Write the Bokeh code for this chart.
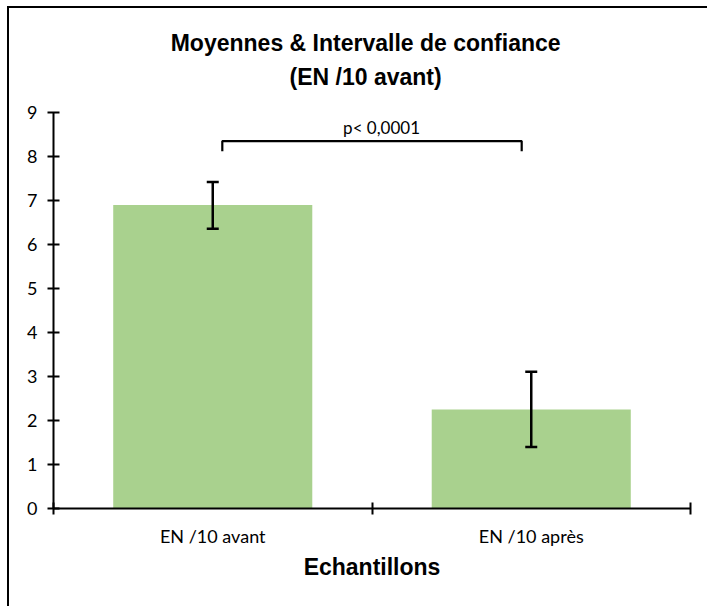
from bokeh.plotting import figure
from bokeh.models import ColumnDataSource, Whisker, TeeHead, FixedTicker, Range1d
from bokeh.core.properties import value
from bokeh.embed import file_html
from bokeh.resources import INLINE

# ---- data ----
categories = ["EN /10 avant", "EN /10 après"]
cat_pos = [0.5, 1.5]
means = [6.9, 2.25]
ci_lower = [6.36, 1.40]
ci_upper = [7.42, 3.11]
y_ticks = [0, 1, 2, 3, 4, 5, 6, 7, 8, 9]
y_axis_max = 9
cat_edges = [0, 1, 2]
bracket_x = [0.53, 1.47]
bracket_top = 8.35
bracket_bottom = 8.12
p_label = "p< 0,0001"
p_label_x = 1.03
p_label_y = 8.66
title_lines = ["Moyennes & Intervalle de confiance", "(EN /10 avant)"]
title_x = 0.98
title_y = [10.59, 9.80]

# frame spans the whole top so the two title lines can sit above the axis
p = figure(width=700, height=600, x_range=Range1d(0, 2), y_range=Range1d(0, 11.364),
           output_backend="svg", toolbar_location=None,
           min_border_left=44, min_border_right=19,
           min_border_top=0, min_border_bottom=100)
p.margin = (6, 0, 0, 7)
p.styles = {"border-top": "2px solid black", "border-left": "2px solid black"}
p.title.visible = False

p.xgrid.visible = False
p.ygrid.visible = False
p.outline_line_color = None

p.text(x=[title_x, title_x], y=title_y, text=title_lines,
       text_align="center", text_baseline="middle",
       text_font=value("Liberation Sans"), text_font_style="bold",
       text_font_size="23px", text_color="black")

p.vbar(x=cat_pos, top=means, width=0.625, fill_color="#A9D18E", line_color=None)

src = ColumnDataSource(dict(x=cat_pos, lower=ci_lower, upper=ci_upper))
w = Whisker(base="x", lower="lower", upper="upper", source=src,
            line_width=2.5, line_color="black", level="overlay",
            upper_head=TeeHead(size=12, line_width=2.5, line_color="black"),
            lower_head=TeeHead(size=12, line_width=2.5, line_color="black"))
p.add_layout(w)

p.line(x=[bracket_x[0], bracket_x[0], bracket_x[1], bracket_x[1]],
       y=[bracket_bottom, bracket_top, bracket_top, bracket_bottom],
       line_color="black", line_width=2.2)
p.text(x=[p_label_x], y=[p_label_y], text=[p_label],
       text_align="center", text_baseline="middle",
       text_font=value("Lato"), text_font_size="17px", text_color="black")

# x axis
xa = p.xaxis[0]
xa.ticker = FixedTicker(ticks=cat_pos, minor_ticks=cat_edges)
xa.major_label_overrides = {cat_pos[i]: categories[i] for i in range(len(categories))}
xa.major_tick_in = 0
xa.major_tick_out = 0
xa.minor_tick_in = 6
xa.minor_tick_out = 6
xa.minor_tick_line_color = "black"
xa.minor_tick_line_width = 2
xa.axis_line_color = "black"
xa.axis_line_width = 2
xa.major_label_text_font = "Lato"
xa.major_label_text_font_size = "18px"
xa.major_label_text_color = "black"
xa.major_label_standoff = 10
xa.axis_label = "Echantillons"
xa.axis_label_text_font = "Liberation Sans"
xa.axis_label_text_font_style = "bold"
xa.axis_label_text_font_size = "23px"
xa.axis_label_text_color = "black"
xa.axis_label_standoff = 4

# y axis
ya = p.yaxis[0]
ya.bounds = (0, y_axis_max)
ya.ticker = FixedTicker(ticks=y_ticks, minor_ticks=[])
ya.major_tick_in = 6
ya.major_tick_out = 6
ya.major_tick_line_color = "black"
ya.major_tick_line_width = 2
ya.axis_line_color = "black"
ya.axis_line_width = 2
ya.major_label_text_font = "Lato"
ya.major_label_text_font_size = "18px"
ya.major_label_text_color = "black"
ya.major_label_standoff = 10

open("out.html", "w").write(file_html(p, INLINE))
